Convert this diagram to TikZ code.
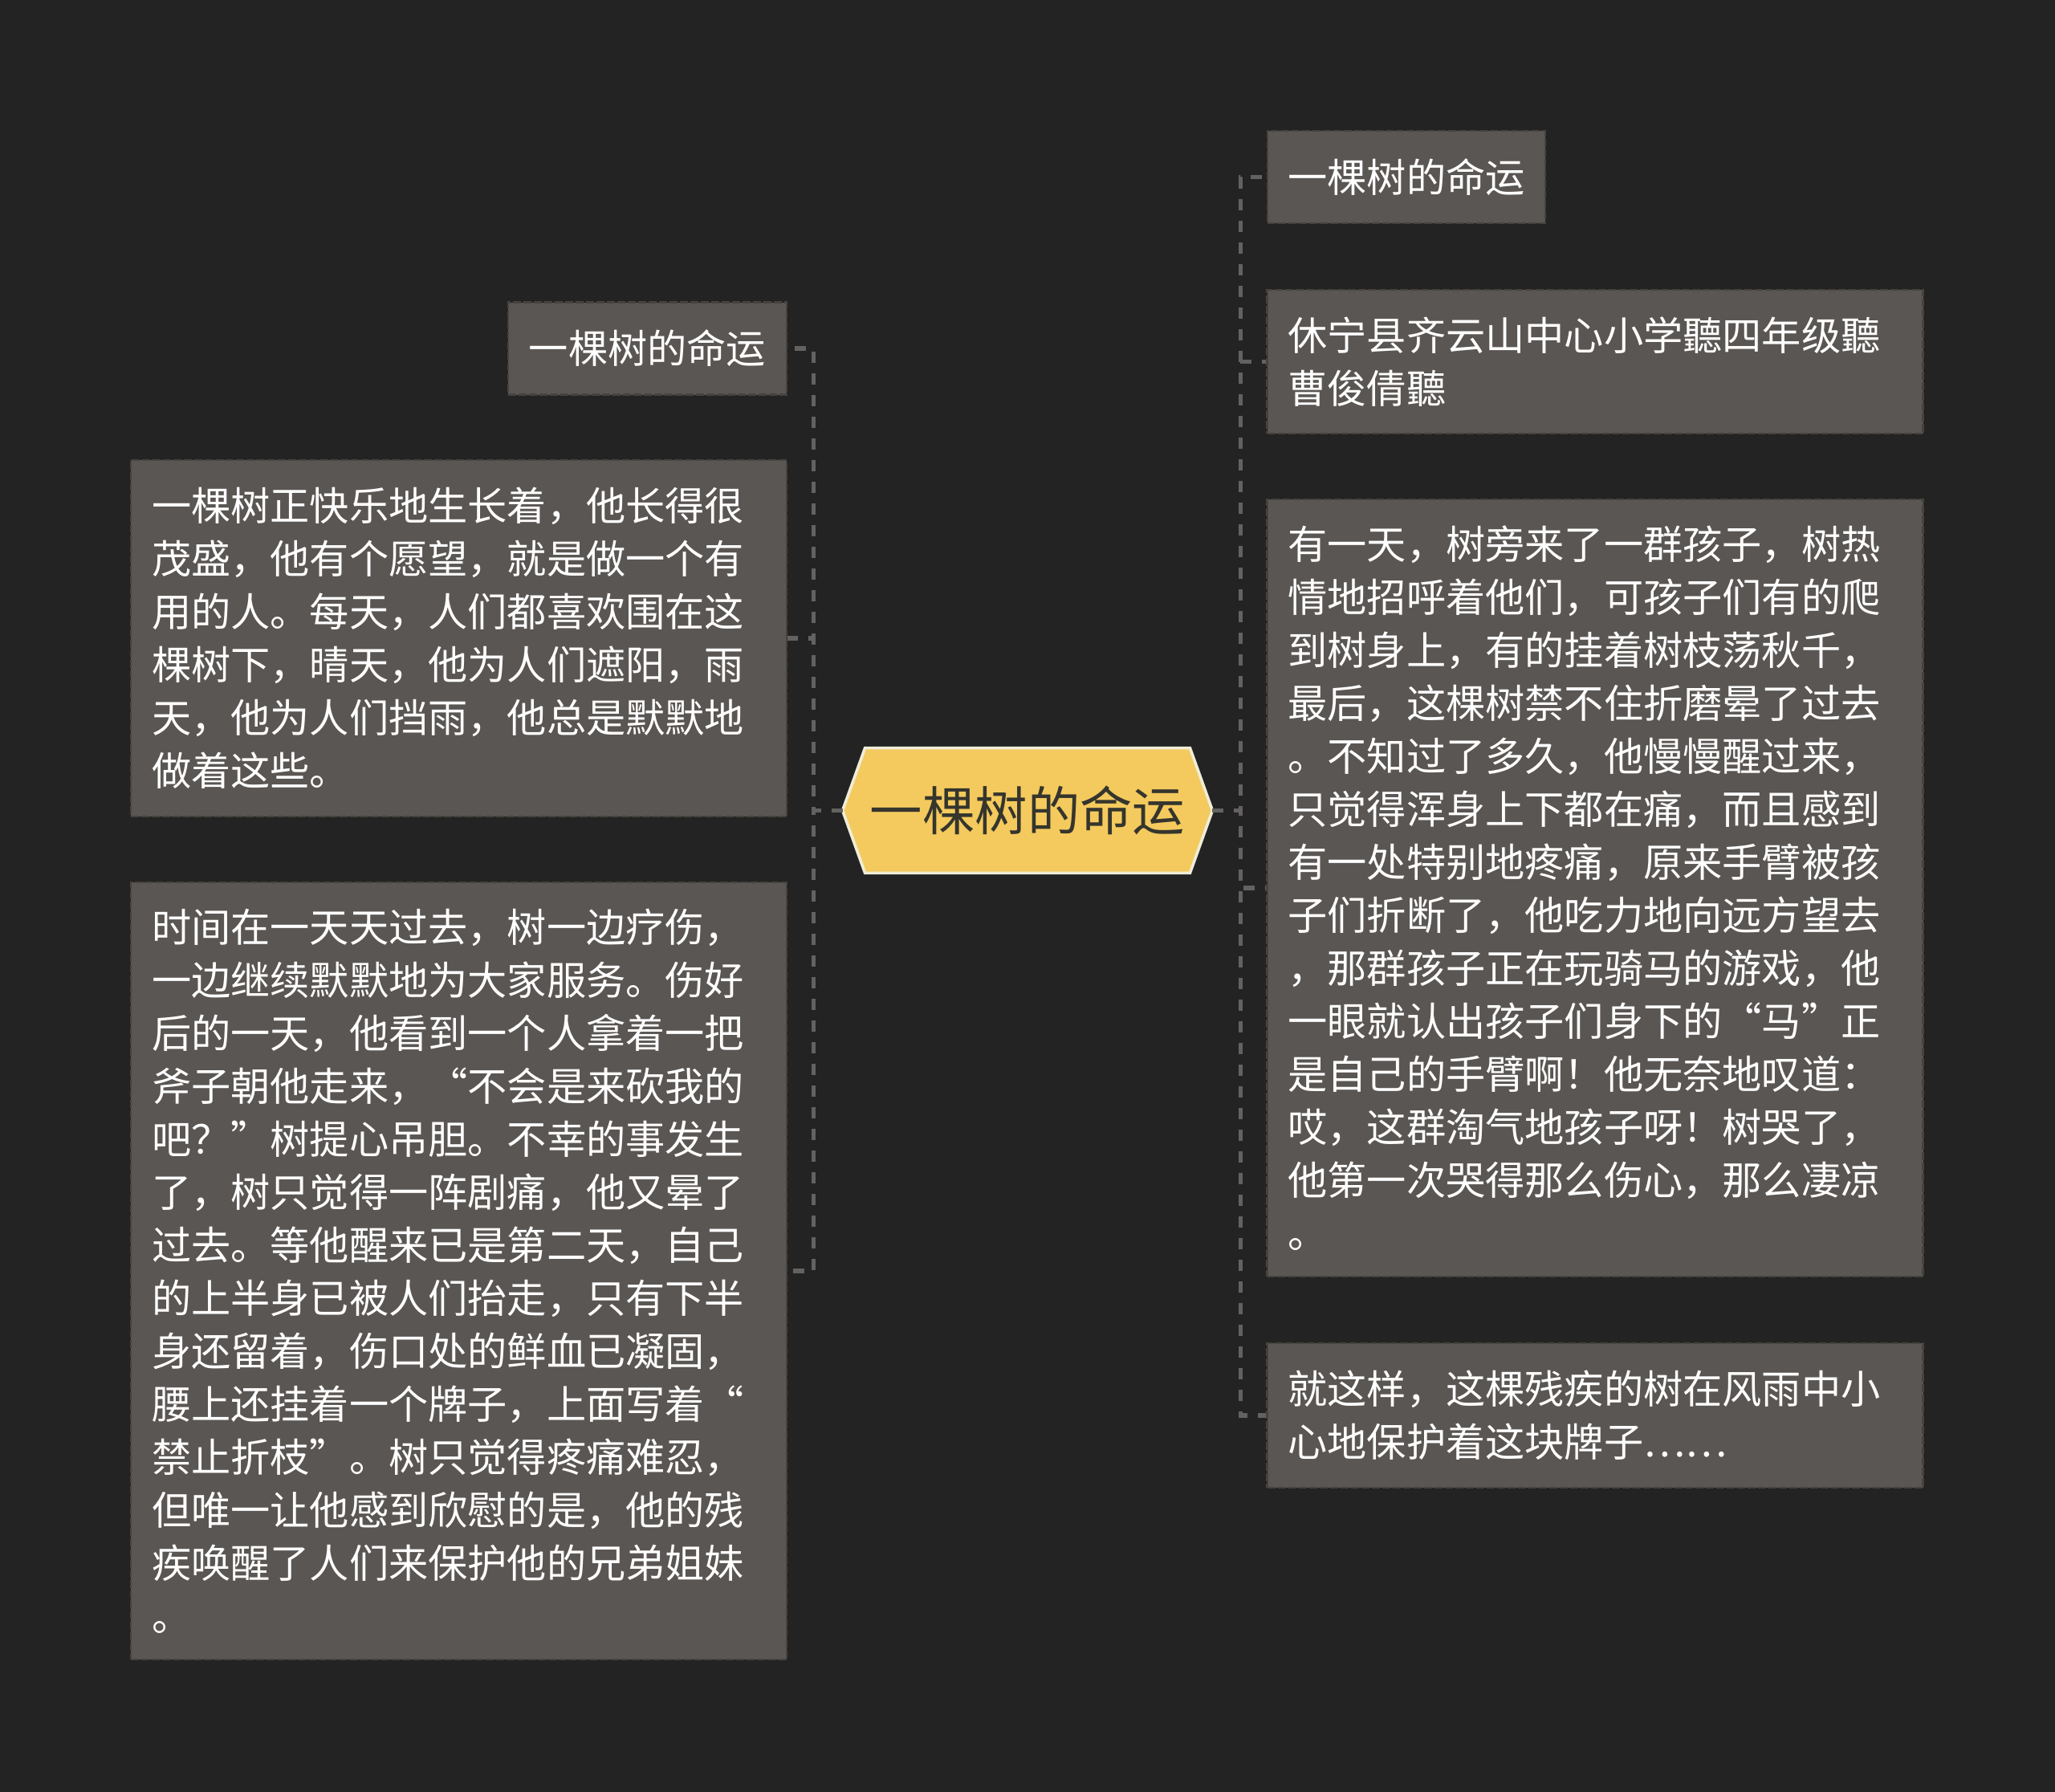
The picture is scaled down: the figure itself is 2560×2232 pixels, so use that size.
\documentclass[tikz,border=0pt]{standalone}
\usepackage{fontspec}
\setmainfont{Noto Sans CJK SC}
\usetikzlibrary{backgrounds}
\definecolor{bgc}{HTML}{232323}
\definecolor{boxfill}{HTML}{5A5653}
\definecolor{boxline}{HTML}{46433F}
\definecolor{connc}{HTML}{646260}
\definecolor{hexfill}{HTML}{F4CA5E}
\definecolor{hexline}{HTML}{EFEDD8}
\definecolor{hextext}{HTML}{35352D}
\tikzset{
  box/.style={fill=boxfill, draw=boxline, line width=1.2pt, dash pattern=on 5pt off 1.5pt,
    text=white, font=\fontsize{24.6pt}{33pt}\selectfont, inner sep=0pt},
  shortbox/.style={box, minimum width=#1, minimum height=57.5pt},
  para/.style={box, align=left, inner xsep=13pt, text width=382.5pt, minimum height=#1},
  hexnode/.style={inner sep=0pt, minimum width=230pt, minimum height=77.5pt, text=hextext,
    font=\fontsize{32.7pt}{36pt}\selectfont},
  conn/.style={draw=connc, line width=2.8pt, dash pattern=on 7pt off 6.5pt}
}
\begin{document}
\begin{tikzpicture}[x=0.5pt,y=-0.5pt]
\node[hexnode] (c) at (1280,1009.5) {一棵树的命运};
\begin{scope}[on background layer]
\fill[bgc] (0,0) rectangle (2560,2232);
\filldraw[fill=hexfill, draw=hexline, line width=1.8pt, line join=miter]
  (c.west) -- ([xshift=14pt]c.north west) -- ([xshift=-14pt]c.north east) -- (c.east)
  -- ([xshift=-14pt]c.south east) -- ([xshift=14pt]c.south west) -- cycle;
\end{scope}

% left branch
\node[shortbox=173.5pt] (L1) at (806.5,434) {一棵树的命运};
\node[para=222pt] (L2) at (571.5,795) {一棵树正快乐地生长着，他长得很\\茂盛，他有个愿望，就是做一个有\\用的人。每天，人们都喜欢围在这\\棵树下，晴天，他为人们遮阳，雨\\天，他为人们挡雨，他总是默默地\\做着这些。};
\node[para=484pt] (L3) at (571.5,1583) {时间在一天天过去，树一边疗伤，\\一边继续默默地为大家服务。伤好\\后的一天，他看到一个人拿着一把\\斧子朝他走来，“不会是来砍我的\\吧？”树提心吊胆。不幸的事发生\\了，树只觉得一阵剧痛，他又晕了\\过去。等他醒来已是第二天，自己\\的上半身已被人们抬走，只有下半\\身还留着，伤口处的鲜血已凝固，\\腰上还挂着一个牌子，上面写着“\\禁止折枝”。树只觉得疼痛难忍，\\但唯一让他感到欣慰的是，他的残\\疾唤醒了人们来保护他的兄弟姐妹\\。};

% right branch
\node[shortbox=173pt] (R1) at (1752,220.5) {一棵树的命运};
\node[para=89.5pt] (R2) at (1987,450.5) {休宁县齐云山中心小学聽四年级聽\\曹俊倩聽};
\node[para=484pt] (R3) at (1987,1106) {有一天，树旁来了一群孩子，树热\\情地招呼着他们，可孩子们有的爬\\到树身上，有的挂着树枝荡秋千，\\最后，这棵树禁不住折磨晕了过去\\。不知过了多久，他慢慢醒过来，\\只觉得浑身上下都在痛，而且感到\\有一处特别地疼痛，原来手臂被孩\\子们折断了，他吃力地向远方望去\\，那群孩子正在玩骑马的游戏，他\\一眼就认出孩子们身下的“马”正\\是自己的手臂啊！他无奈地叹道：\\哎，这群淘气地孩子呀！树哭了，\\他第一次哭得那么伤心，那么凄凉\\。};
\node[para=90pt] (R4) at (1987,1763) {就这样，这棵残疾的树在风雨中小\\心地保护着这块牌子……};

% connectors
\begin{scope}[on background layer]
\draw[conn] (c.west) -- ++(-36,0) |- (L1.east);
\draw[conn] (c.west) -- ++(-36,0) |- (L2.east);
\draw[conn] (c.west) -- ++(-36,0) |- (L3.east);
\draw[conn] (c.east) -- ++(35,0) |- (R1.west);
\draw[conn] (c.east) -- ++(35,0) |- (R2.west);
\draw[conn] (c.east) -- ++(35,0) |- (R3.west);
\draw[conn] (c.east) -- ++(35,0) |- (R4.west);
\end{scope}
\end{tikzpicture}
\end{document}
